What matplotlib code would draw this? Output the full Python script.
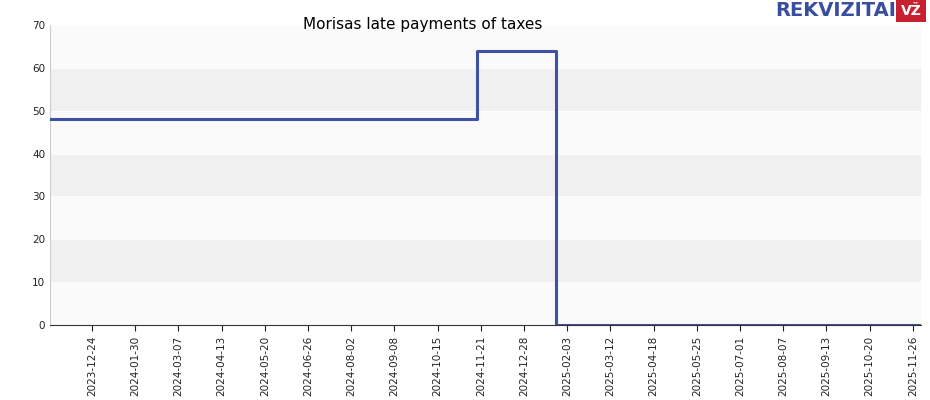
import numpy as np
import matplotlib.pyplot as plt
import matplotlib.dates as mdates
from datetime import date, timedelta

# step data
dates = [date(2023, 11, 18), date(2024, 11, 18), date(2025, 1, 24), date(2025, 12, 3)]
values = [48, 64, 0, 0]

tick_start = date(2023, 12, 24)
tick_dates = [tick_start + timedelta(days=37 * i) for i in range(20)]

fig = plt.figure(figsize=(9.3, 4.0), dpi=100)
ax = fig.add_axes([50 / 930, 75 / 400, 871 / 930, 300 / 400])
ax.set_facecolor('#fafafa')
for lo in range(10, 70, 20):
    ax.axhspan(lo, lo + 10, color='#f0f0f0', zorder=0)
for y in range(0, 71, 10):
    ax.axhline(y, color='#ffffff', lw=0.6, zorder=0.5)

ax.step(dates, values, where='post', color='#3f51a5', lw=2.2, zorder=3)

ax.set_xlim(dates[0], dates[-1])
ax.set_ylim(0, 70)
ax.set_yticks(range(0, 71, 10))
ax.set_xticks(tick_dates)
ax.xaxis.set_major_formatter(mdates.DateFormatter('%Y-%m-%d'))
ax.tick_params(axis='x', rotation=90, labelsize=7.5, colors='#222222', length=4)
ax.tick_params(axis='y', labelsize=7.5, colors='#222222', length=0)
for s in ['top', 'right']:
    ax.spines[s].set_visible(False)
ax.spines['left'].set_color('#cccccc')
ax.spines['bottom'].set_color('#333333')

fig.text(423 / 930, 1 - 25 / 400, 'Morisas late payments of taxes', ha='center', va='center', fontsize=11)

# logo
fig.text(896 / 930, 1 - 11 / 400, 'REKVIZITAI', ha='right', va='center', fontsize=14,
         fontweight='bold', color='#3a4ea0')
fig.text(911 / 930, 1 - 11 / 400, 'VŽ', ha='center', va='center', fontsize=10,
         fontweight='bold', color='white',
         bbox=dict(boxstyle='square,pad=0.3', fc='#c8202f', ec='none'))

fig.savefig('out.png', dpi=100)
